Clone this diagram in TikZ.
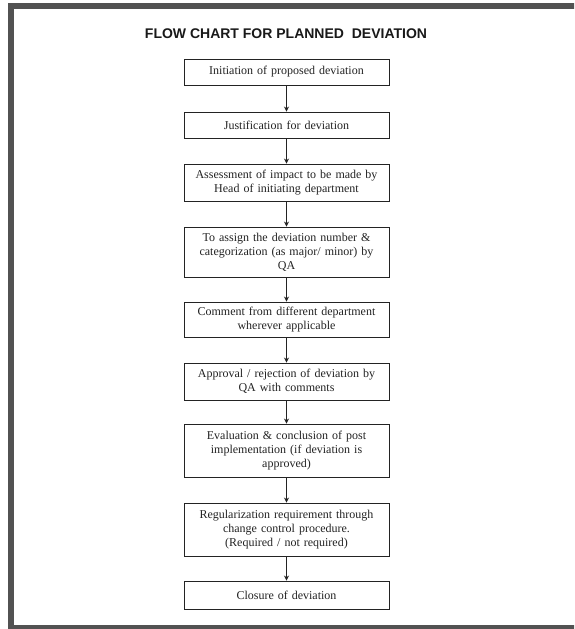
\documentclass[tikz,border=0pt]{standalone}
\usepackage{fontspec}
\setmainfont{Liberation Serif}
\newfontfamily\titlefont{Liberation Sans}
\usetikzlibrary{arrows.meta}
\definecolor{framegray}{RGB}{82,82,82}
\definecolor{inkgray}{RGB}{35,35,35}
\begin{document}
\begin{tikzpicture}[x=1pt,y=-1pt,
  stepbox/.style={draw=inkgray, line width=0.9pt, fill=white,
    minimum width=205pt, text width=197pt, align=center, inner sep=0pt,
    font=\fontsize{12}{14}\selectfont, text=inkgray},
  flow/.style={draw=inkgray, line width=0.9pt,
    -{Stealth[length=5pt,width=5pt]}},
  heading/.style={font=\titlefont\bfseries\fontsize{14}{16}\selectfont,
    text=black!90, anchor=base, inner sep=0pt}]
\useasboundingbox (0,0) rectangle (574,629);
\fill[white] (0,0) rectangle (574,629);
% page frame
\begin{scope}
  \clip (0,0) rectangle (574,629);
  \draw[framegray, line width=6pt] (11,6) rectangle (600,628);
\end{scope}
% title
\node[heading] (title) at (286,38) {FLOW CHART FOR PLANNED\ \ DEVIATION};
% process steps
\node[stepbox, minimum height=26pt] (n1) at (286.5,72) {Initiation of proposed deviation};
\node[stepbox, minimum height=26pt] (n2) at (286.5,125) {Justification for deviation};
\node[stepbox, minimum height=37pt] (n3) at (286.5,182.5) {Assessment of impact to be made by\\Head of initiating department};
\node[stepbox, minimum height=50pt] (n4) at (286.5,252) {To assign the deviation number \&\\categorization (as major/ minor) by\\QA};
\node[stepbox, minimum height=35pt] (n5) at (286.5,319.5) {Comment from different department\\wherever applicable};
\node[stepbox, minimum height=37pt] (n6) at (286.5,381.5) {Approval / rejection of deviation by\\QA with comments};
\node[stepbox, minimum height=53pt] (n7) at (286.5,450.5) {Evaluation \& conclusion of post\\implementation (if deviation is\\approved)};
\node[stepbox, minimum height=53pt] (n8) at (286.5,529.5) {Regularization requirement through\\change control procedure.\\(Required / not required)};
\node[stepbox, minimum height=28pt] (n9) at (286.5,595) {Closure of deviation};
% connectors
\foreach \a/\b in {n1/n2,n2/n3,n3/n4,n4/n5,n5/n6,n6/n7,n7/n8,n8/n9}
  \draw[flow] (\a.south) -- (\b.north);
\end{tikzpicture}
\end{document}
